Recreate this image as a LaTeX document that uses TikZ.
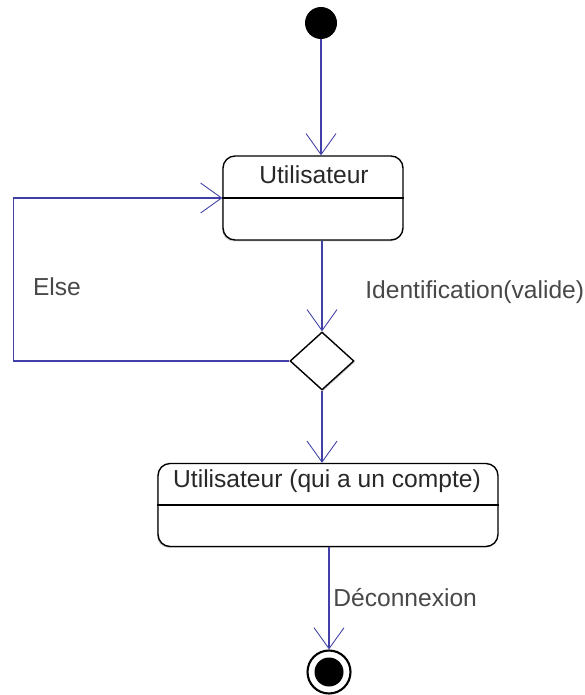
\documentclass[tikz,border=0pt]{standalone}
\usepackage{fontspec}
\setmainfont{Liberation Sans}
\usetikzlibrary{arrows.meta,shapes.geometric,shadows}
\definecolor{lien}{RGB}{64,64,168}
\definecolor{texte}{RGB}{40,40,40}
\begin{document}
\begin{tikzpicture}[x=0.02cm, y=-0.02cm,
    etat/.style={draw, rounded corners=0.24cm, line width=0.8pt, fill=white,
      drop shadow={shadow xshift=-0.6pt, shadow yshift=-0.8pt, opacity=0.35}},
    titre/.style={text=texte, font=\fontsize{14}{16}\selectfont, inner sep=0pt},
    lbl/.style={text=texte!85, font=\fontsize{14}{16}\selectfont, inner sep=0pt},
    fleche/.style={draw=lien, line width=0.6pt,
      -{Straight Barb[length=0.42cm, width=0.6cm, line width=0.5pt]}}]
  \useasboundingbox (0,0) rectangle (584,695);

  \node[circle, fill=black, minimum size=0.64cm, inner sep=0pt] (debut) at (321,23) {};

  \node[etat, minimum width=3.6cm, minimum height=1.68cm] (util) at (313,198) {};
  \node[titre] (utilT) at (314,175) {Utilisateur};
  \draw[line width=0.8pt] (util.west) -- (util.east);

  \node[diamond, draw, line width=0.8pt, fill=white, minimum width=1.28cm, minimum height=1.16cm,
    inner sep=0pt, drop shadow={shadow xshift=0.6pt, shadow yshift=-0.8pt, opacity=0.35}] (choix) at (322,361) {};

  \node[etat, minimum width=6.8cm, minimum height=1.66cm] (compte) at (328,505) {};
  \node[titre] (compteT) at (327,481) {Utilisateur (qui a un compte)};
  \draw[line width=0.8pt] (compte.west) -- (compte.east);

  \node[circle, draw, line width=1.2pt, fill=white, minimum size=0.86cm, inner sep=0pt] (fin) at (329,672) {};
  \node[circle, fill=black, minimum size=0.58cm, inner sep=0pt] (finP) at (fin) {};

  \draw[fleche] (debut) -- (debut |- util.north);
  \draw[fleche] (choix.north |- util.south) -- (choix.north);
  \draw[fleche] (choix.west) -- ++(-276,0) |- (util.west);
  \draw[fleche] (choix.south) -- (choix.south |- compte.north);
  \draw[fleche] (fin.north |- compte.south) -- (fin.north);

  \node[lbl, anchor=west] (ident) at (365,292) {Identification(valide)};
  \node[lbl] (sinon) at (57,287) {Else};
  \node[lbl, anchor=west] (deco) at (333,598) {Déconnexion};
\end{tikzpicture}
\end{document}
